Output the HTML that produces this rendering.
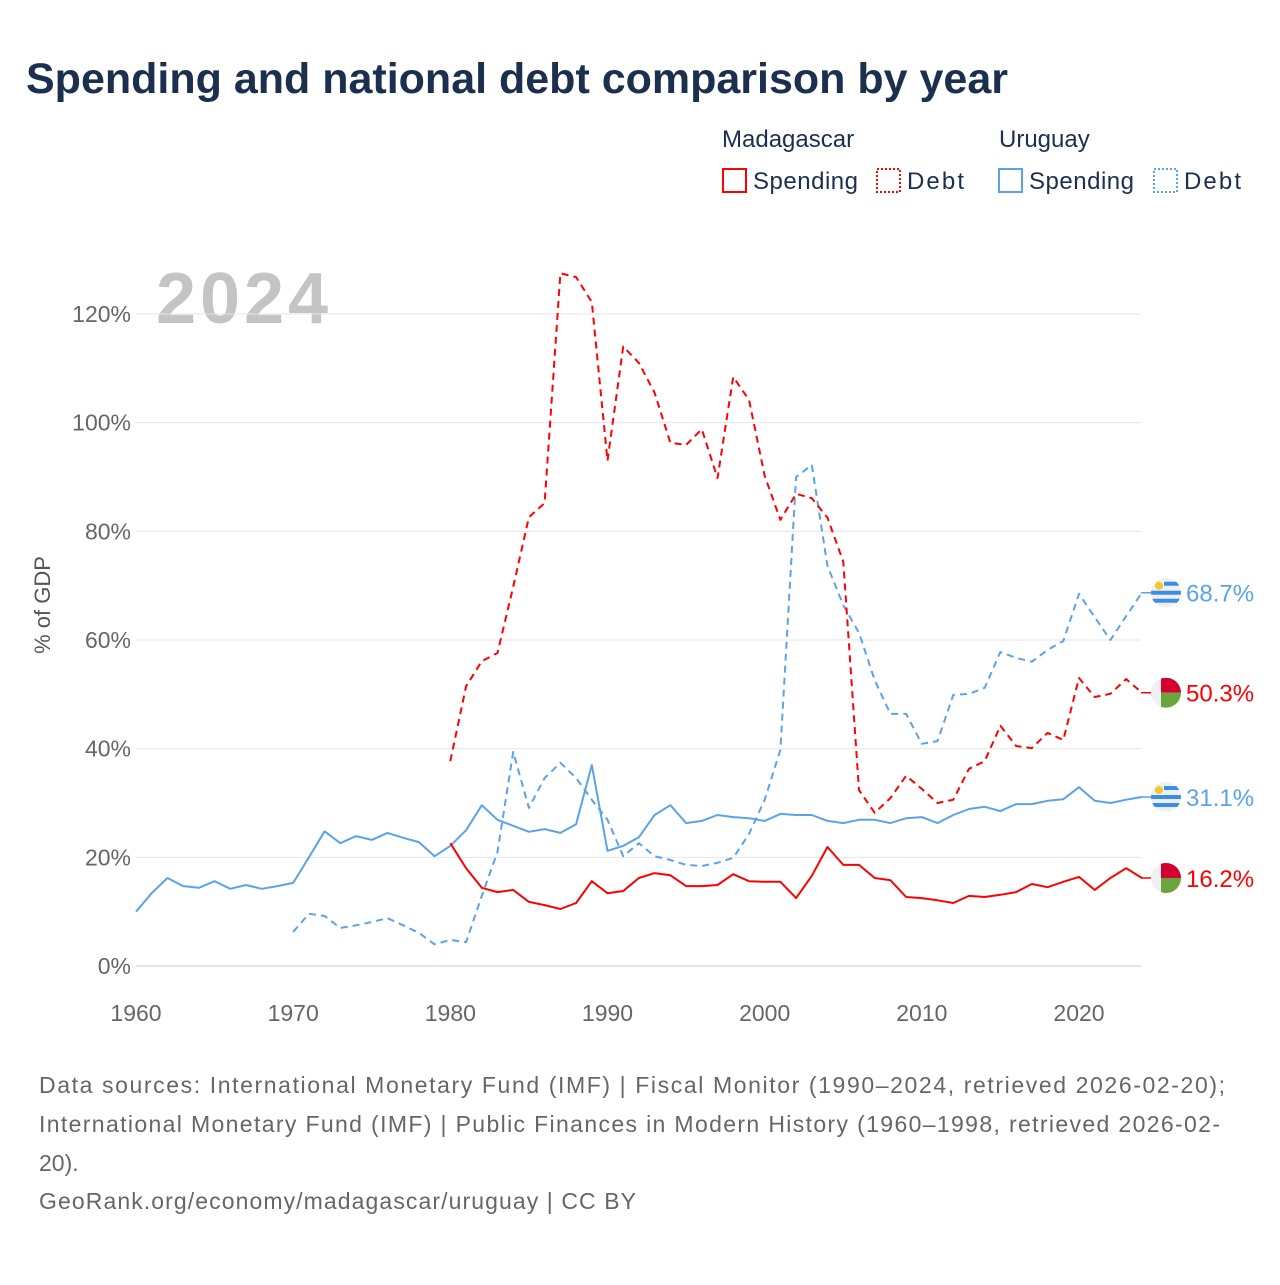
<!DOCTYPE html>
<html><head><meta charset="utf-8"><style>
body{margin:0;background:#fff;width:1280px;height:1280px;overflow:hidden;font-family:"Liberation Sans",sans-serif}
svg text{font-family:"Liberation Sans",sans-serif}
</style></head><body>
<svg id="c" width="1280" height="1280" xmlns="http://www.w3.org/2000/svg">
<defs id="defs"></defs>
<text x="26" y="93" font-size="43" font-weight="bold" fill="#1b2f4e">Spending and national debt comparison by year</text>
<g font-size="24" fill="#1b2f4e">
<text x="722" y="147">Madagascar</text>
<text x="999" y="147">Uruguay</text>
<rect x="723" y="169" width="23" height="23" fill="none" stroke="#f00" stroke-width="2"/>
<text x="753" y="189" textLength="105">Spending</text>
<rect x="877" y="169" width="23" height="23" fill="none" stroke="#f00" stroke-width="2" stroke-dasharray="2,2"/>
<text x="907" y="189" textLength="57">Debt</text>
<rect x="999" y="169" width="23" height="23" fill="none" stroke="#5ba3e8" stroke-width="2"/>
<text x="1029" y="189" textLength="105">Spending</text>
<rect x="1154" y="169" width="23" height="23" fill="none" stroke="#5ba3e8" stroke-width="2" stroke-dasharray="2,2"/>
<text x="1184" y="189" textLength="57">Debt</text>
</g>
<text x="156" y="323" font-size="72" font-weight="bold" fill="#c4c4c4" textLength="172">2024</text>
<text transform="translate(50,605) rotate(-90)" text-anchor="middle" font-size="22" fill="#555">% of GDP</text>
<g id="grid"></g><g id="series"></g><g id="ends"></g>
<g font-size="23" fill="#666">
<text x="39" y="1093" textLength="1186">Data sources: International Monetary Fund (IMF) | Fiscal Monitor (1990–2024, retrieved 2026-02-20);</text>
<text x="39" y="1132" textLength="1181">International Monetary Fund (IMF) | Public Finances in Modern History (1960–1998, retrieved 2026-02-</text>
<text x="39" y="1171">20).</text>
<text x="39" y="1209" textLength="597">GeoRank.org/economy/madagascar/uruguay | CC BY</text>
</g>
</svg>
<script>
const yTicks=[0,20,40,60,80,100,120];
const xTicks=[1960,1970,1980,1990,2000,2010,2020];
const uySpendStart=1960;
const uySpend=[10,13.4,16.2,14.7,14.4,15.6,14.2,14.9,14.2,14.7,15.3,20,24.8,22.6,23.9,23.2,24.5,23.6,22.8,20.2,22.1,25,29.6,26.9,25.8,24.7,25.2,24.5,26.1,37,21.2,22.1,23.7,27.8,29.6,26.3,26.7,27.8,27.4,27.2,26.7,28,27.8,27.8,26.7,26.3,26.9,26.9,26.3,27.2,27.4,26.3,27.8,28.9,29.3,28.5,29.8,29.8,30.4,30.7,32.9,30.4,30,30.6,31.1];
const uyDebtStart=1970;
const uyDebt=[6.3,9.6,9.2,7,7.5,8.1,8.8,7.5,6.1,4,4.8,4.4,12.9,21,39.4,29.1,34.6,37.4,34.6,30.6,26.9,20.2,22.6,20.2,19.5,18.6,18.4,19,19.9,24.3,30.6,39.8,90,92.2,73.6,66.4,61.3,52.6,46.4,46.4,40.9,41.4,49.9,50.1,51.2,57.8,56.7,56,58.2,59.8,68.5,64.2,60,64.4,68.7];
const mgSpendStart=1980;
const mgSpend=[22.6,18,14.4,13.6,14,11.8,11.2,10.5,11.6,15.6,13.4,13.8,16.2,17.1,16.7,14.7,14.7,14.9,16.9,15.6,15.5,15.5,12.5,16.6,21.9,18.6,18.6,16.2,15.8,12.7,12.5,12.1,11.6,12.9,12.7,13.1,13.6,15.1,14.5,15.5,16.4,14,16.2,18,16.2];
const mgDebtStart=1980;
const mgDebt=[37.7,51.5,56.1,57.6,69.8,82.6,85.2,127.5,126.8,122.2,93,114,111,105.5,96.3,95.9,98.8,89.8,108.4,104.2,90.2,82.1,86.9,86.1,82.5,74.4,32.4,28.2,30.9,35,32.6,30,30.6,36.3,37.7,44.2,40.5,40.1,42.9,41.6,53,49.5,50.1,52.8,50.3];
const NS="http://www.w3.org/2000/svg";
const X=y=>136+(y-1960)*(943/60);
const Y=v=>966-v*(652/120);
function mk(t,a,p){const e=document.createElementNS(NS,t);for(const k in a)e.setAttribute(k,a[k]);p.appendChild(e);return e;}
const grid=document.getElementById('grid');
yTicks.forEach(v=>{
 const l=mk('line',{x1:136,x2:1141,y1:Y(v),y2:Y(v),stroke:v===0?'#ccc':'#e6e6e6','stroke-width':1},grid);
 
 
 const t=mk('text',{x:131,y:Y(v)+8,'text-anchor':'end','font-size':23,fill:'#666'},grid);
 t.textContent=v+'%';
 
 
});
xTicks.forEach(v=>{
 const t=mk('text',{x:X(v),y:1021,'text-anchor':'middle','font-size':23,fill:'#666'},grid);
 t.textContent=v;
 
 
});
const S=document.getElementById('series');
function line(vals,start,color,dash,name){
 const d=vals.map((v,i)=>(i?'L':'M')+X(start+i).toFixed(1)+','+Y(v).toFixed(1)).join('');
 const p=mk('path',{d:d,fill:'none',stroke:color,'stroke-width':2,'stroke-dasharray':dash?'7,5':'none','stroke-linejoin':'round'},S);
 
 
}
line(uySpend,uySpendStart,'#5ba3e8',false,'uruguay-spending-line');
line(uyDebt,uyDebtStart,'#5ba3e8',true,'uruguay-debt-line');
line(mgSpend,mgSpendStart,'#f00',false,'madagascar-spending-line');
line(mgDebt,mgDebtStart,'#f00',true,'madagascar-debt-line');
const E=document.getElementById('ends');
const defs=document.getElementById('defs');
let cid=0;
function end(v,color,flag,name){
 const y=Y(v),cx=1166;
 mk('line',{x1:1141,x2:1152,y1:y,y2:y,stroke:color,'stroke-width':1.5},E);
 const id='fc'+(cid++);
 const cp=mk('clipPath',{id:id},defs);
 mk('circle',{cx:cx,cy:y,r:15},cp);
 const g=mk('g',{'clip-path':'url(#'+id+')'},E);
 
 
 mk('rect',{x:cx-15,y:y-15,width:30,height:30,fill:'#f0f0f0'},g);
 if(flag==='uy'){
  mk('rect',{x:cx-2,y:y-11,width:18,height:4,fill:'#3a8ee6'},g);
  mk('rect',{x:cx-15,y:y-2,width:30,height:4,fill:'#3a8ee6'},g);
  mk('rect',{x:cx-15,y:y+6,width:30,height:4,fill:'#3a8ee6'},g);
  mk('circle',{cx:cx-7,cy:y-7,r:4,fill:'#f8c52c'},g);
 } else {
  mk('rect',{x:cx-5,y:y-15,width:20,height:15,fill:'#d40030'},g);
  mk('rect',{x:cx-5,y:y,width:20,height:15,fill:'#6aa43b'},g);
 }
 const t=mk('text',{x:1186,y:y+9,'font-size':24,fill:color},E);
 t.textContent=v.toFixed(1)+'%';
 
 
}
end(uyDebt[uyDebt.length-1],'#5ba3e8','uy','uruguay-debt');
end(mgDebt[mgDebt.length-1],'#f00','mg','madagascar-debt');
end(uySpend[uySpend.length-1],'#5ba3e8','uy','uruguay-spending');
end(mgSpend[mgSpend.length-1],'#f00','mg','madagascar-spending');
</script>
</body></html>
